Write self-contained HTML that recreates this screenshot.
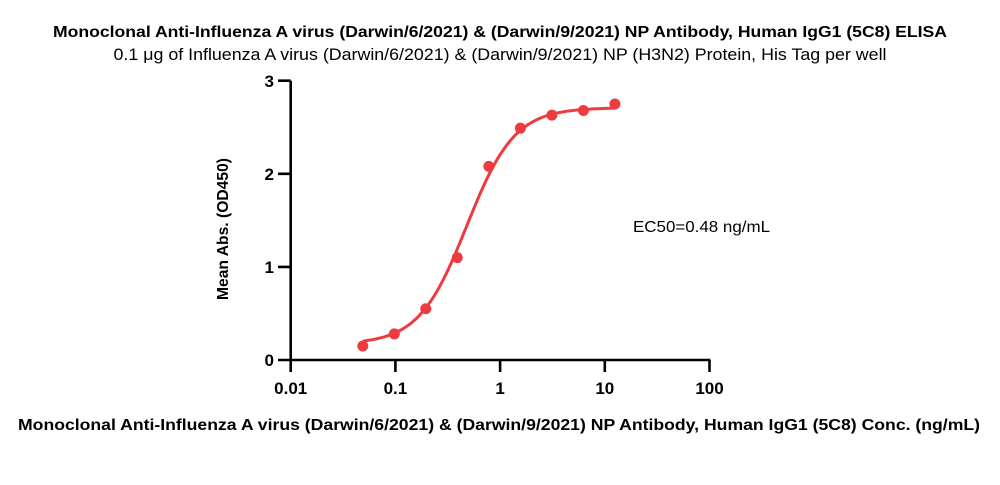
<!DOCTYPE html>
<html><head><meta charset="utf-8"><style>
body{margin:0;background:#fff;}
svg text{font-family:"Liberation Sans",sans-serif;}
</style></head><body>
<svg id="s" width="1000" height="480" xmlns="http://www.w3.org/2000/svg">
<text x="500" y="37" text-anchor="middle" font-size="15.5" font-weight="bold" textLength="894" lengthAdjust="spacingAndGlyphs">Monoclonal Anti-Influenza A virus (Darwin/6/2021) &amp; (Darwin/9/2021) NP Antibody, Human IgG1 (5C8) ELISA</text>
<text x="500" y="60" text-anchor="middle" font-size="16.5" textLength="773" lengthAdjust="spacingAndGlyphs">0.1 μg of Influenza A virus (Darwin/6/2021) &amp; (Darwin/9/2021) NP (H3N2) Protein, His Tag per well</text>
<g stroke="#000" stroke-width="2.6" fill="none">
<path d="M290.7 80.7V361.3M290.7 360H710.3"/>
<path d="M278 80.7H290.7M278 173.8H290.7M278 266.9H290.7M278 360H290.7"/>
<path d="M290.7 360V372M395.4 360V372M500.1 360V372M604.8 360V372M709.5 360V372"/>
</g>
<g font-size="17" font-weight="bold" text-anchor="end">
<text x="274" y="87">3</text><text x="274" y="180">2</text><text x="274" y="273">1</text><text x="274" y="366">0</text>
</g>
<g font-size="17" font-weight="bold" text-anchor="middle">
<text x="290.7" y="394">0.01</text><text x="395.4" y="394">0.1</text><text x="500.1" y="394">1</text><text x="604.8" y="394">10</text><text x="709.5" y="394">100</text>
</g>
<text transform="translate(228,229) rotate(-90)" text-anchor="middle" font-size="15.5" font-weight="bold" textLength="142" lengthAdjust="spacingAndGlyphs">Mean Abs. (OD450)</text>
<text x="633" y="232" font-size="16" textLength="137" lengthAdjust="spacingAndGlyphs">EC50=0.48 ng/mL</text>
<text x="499" y="430" text-anchor="middle" font-size="16" font-weight="bold" textLength="962" lengthAdjust="spacingAndGlyphs">Monoclonal Anti-Influenza A virus (Darwin/6/2021) &amp; (Darwin/9/2021) NP Antibody, Human IgG1 (5C8) Conc. (ng/mL)</text>
<path id="c" fill="none" stroke="#ee3b3f" stroke-width="3"/>
<g id="p" fill="#ee3b3f"></g>
</svg>
<script>
var X=function(v){return 290.7+(Math.log10(v)+2)*104.7},Y=function(v){return 360-v*93.1};
var f=function(x){return 0.17+(2.71-0.17)/(1+Math.pow(0.48/x,1.9))};
var d="";for(var i=0;i<=200;i++){var lx=Math.log10(0.0488)+i/200*(Math.log10(12.5)-Math.log10(0.0488));var x=Math.pow(10,lx);d+=(i?"L":"M")+X(x).toFixed(1)+" "+Y(f(x)).toFixed(1);}
document.getElementById("c").setAttribute("d",d);
var pts=[[0.0488,0.15],[0.0977,0.28],[0.195,0.55],[0.39,1.1],[0.78,2.08],[1.5625,2.49],[3.125,2.63],[6.25,2.68],[12.5,2.75]];
var g=document.getElementById("p");pts.forEach(function(p){var c=document.createElementNS("http://www.w3.org/2000/svg","circle");c.setAttribute("cx",X(p[0]));c.setAttribute("cy",Y(p[1]));c.setAttribute("r",5.5);g.appendChild(c);});
</script>
</body></html>
